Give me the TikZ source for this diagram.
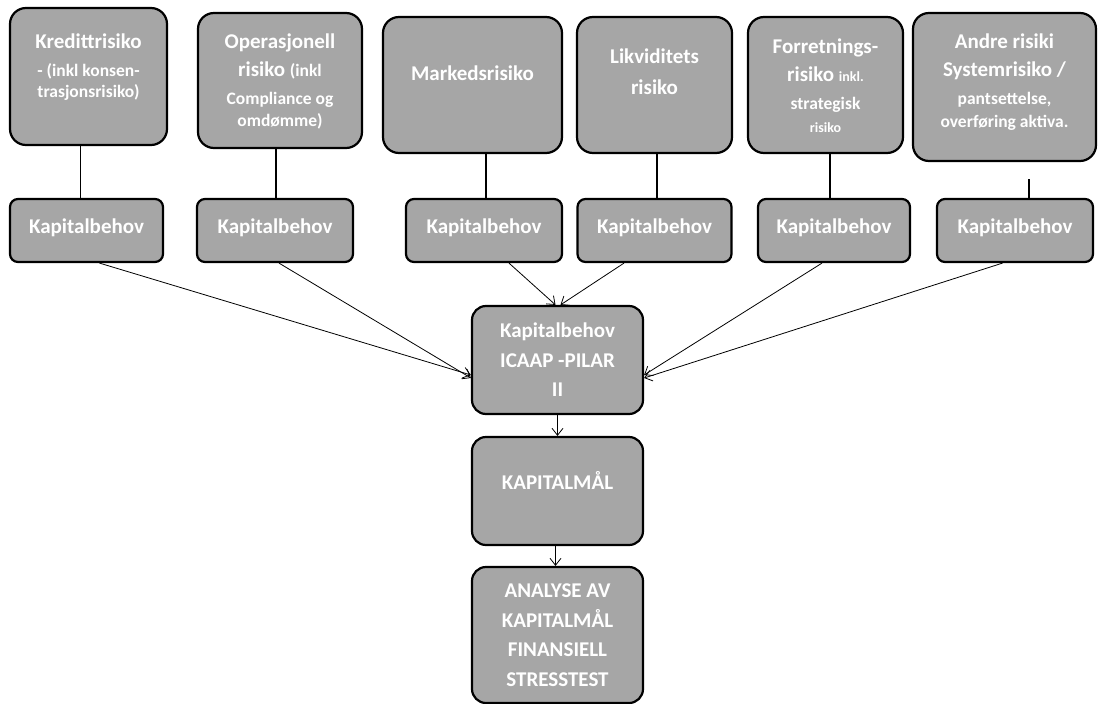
\documentclass[tikz,border=0pt]{standalone}
\usepackage{fontspec}
\setmainfont{Carlito}
\usetikzlibrary{positioning,arrows.meta}

\definecolor{boxgray}{RGB}{166,166,166}
\newcommand{\midsz}{\fontsize{17.5}{28}\selectfont}
\newcommand{\tinysz}{\fontsize{14}{28}\selectfont}

\tikzset{
  riskbox/.style={draw=black, line width=2.2pt, fill=boxgray, rounded corners=16pt},
  boxtext/.style={text=white, font=\bfseries\fontsize{21}{28}\selectfont, align=center, inner sep=0pt},
  capbox/.style={draw=black, line width=2.2pt, fill=boxgray, rounded corners=8pt,
    minimum height=63pt, text=white, font=\bfseries\fontsize{21}{28}\selectfont, text depth=9pt},
  mainbox/.style={draw=black, line width=2.2pt, fill=boxgray, rounded corners=14pt,
    minimum width=171pt, text=white, font=\bfseries\fontsize{21}{29.5}\selectfont, align=center},
  link/.style={line width=1.8pt},
  flow/.style={line width=0.8pt, -{Straight Barb[length=7pt,width=11pt]}},
}

\begin{document}
\begin{tikzpicture}[x=1pt,y=-1pt]

\useasboundingbox (0,0) rectangle (1098,704);

\node[riskbox, minimum width=157pt, minimum height=137pt] (kreditt) at (88.5,76.5) {};
\node[riskbox, minimum width=164pt, minimum height=135pt] (operasjonell) at (280,80.5) {};
\node[riskbox, minimum width=179pt, minimum height=136pt] (marked) at (472.5,85) {};
\node[riskbox, minimum width=155pt, minimum height=136pt] (likviditet) at (654.5,85) {};
\node[riskbox, minimum width=155pt, minimum height=136pt] (forretning) at (825.5,85) {};
\node[riskbox, minimum width=183pt, minimum height=148pt] (andre) at (1004.5,87) {};

\node[boxtext, below=27pt of kreditt.north] (kreditt-t)
  {Kredittrisiko\\ {\midsz - (inkl konsen-}\\[-7pt] {\midsz trasjonsrisiko)}};
\node[boxtext, below=22pt of operasjonell.north] (operasjonell-t)
  {Operasjonell\\ risiko {\midsz (inkl}\\ {\midsz Compliance og}\\[-6pt] {\midsz omdømme)}};
\node[boxtext, below=50pt of marked.north] (marked-t) {Markedsrisiko};
\node[boxtext, below=33pt of likviditet.north] (likviditet-t) {Likviditets\\[3pt] risiko};
\node[boxtext, below=23pt of forretning.north] (forretning-t)
  {Forretnings-\\ risiko {\tinysz inkl.}\\ {\midsz strategisk}\\[-5pt] {\tinysz risiko}};
\node[boxtext, below=22pt of andre.north] (andre-t)
  {Andre risiki\\ Systemrisiko /\\ {\midsz pantsettelse,}\\[-5pt] {\midsz overføring aktiva.}};

\node[capbox, minimum width=153pt] (kap1) at (86.5,230.5) {Kapitalbehov};
\node[capbox, minimum width=156pt] (kap2) at (275,230.5) {Kapitalbehov};
\node[capbox, minimum width=156pt] (kap3) at (484,230.5) {Kapitalbehov};
\node[capbox, minimum width=154pt] (kap4) at (654.5,230.5) {Kapitalbehov};
\node[capbox, minimum width=152pt] (kap5) at (834,230.5) {Kapitalbehov};
\node[capbox, minimum width=156pt] (kap6) at (1015,230.5) {Kapitalbehov};

\node[mainbox, minimum height=108pt] (icaap) at (557.5,360) {Kapitalbehov\\ ICAAP -PILAR\\ II};
\node[mainbox, minimum height=108pt, text depth=22pt] (kapmal) at (557.5,491) {KAPITALMÅL};
\node[mainbox, minimum height=136pt] (analyse) at (557.5,635)
  {ANALYSE AV\\ KAPITALMÅL\\ FINANSIELL\\ STRESSTEST};

\draw[link] ([xshift=-8pt]kreditt.south) -- ([xshift=-8pt]kreditt.south |- kap1.north);
\draw[link] ([xshift=-4pt]operasjonell.south) -- ([xshift=-4pt]operasjonell.south |- kap2.north);
\draw[link] ([xshift=13.5pt]marked.south) -- ([xshift=13.5pt]marked.south |- kap3.north);
\draw[link] ([xshift=2.5pt]likviditet.south) -- ([xshift=2.5pt]likviditet.south |- kap4.north);
\draw[link] ([xshift=4.5pt]forretning.south) -- ([xshift=4.5pt]forretning.south |- kap5.north);
\draw[link] ([xshift=24.5pt,yshift=-17pt]andre.south) -- ([xshift=24.5pt]andre.south |- kap6.north);

\draw[flow] ([xshift=13pt]kap1.south) -- ([yshift=-15pt]icaap.west);
\draw[flow] ([xshift=4pt]kap2.south) -- ([yshift=-18pt]icaap.west);
\draw[flow] ([xshift=25pt]kap3.south) -- ([xshift=-2pt]icaap.north);
\draw[flow] ([xshift=-30.5pt]kap4.south) -- ([xshift=3pt]icaap.north);
\draw[flow] ([xshift=-12pt]kap5.south) -- ([yshift=-15pt]icaap.east);
\draw[flow] ([xshift=-12.5pt]kap6.south) -- ([yshift=-18pt]icaap.east);

\draw[flow] (icaap) -- (kapmal);
\draw[flow] ([xshift=-2pt]kapmal.south) -- ([xshift=-2pt]analyse.north);

\end{tikzpicture}
\end{document}
